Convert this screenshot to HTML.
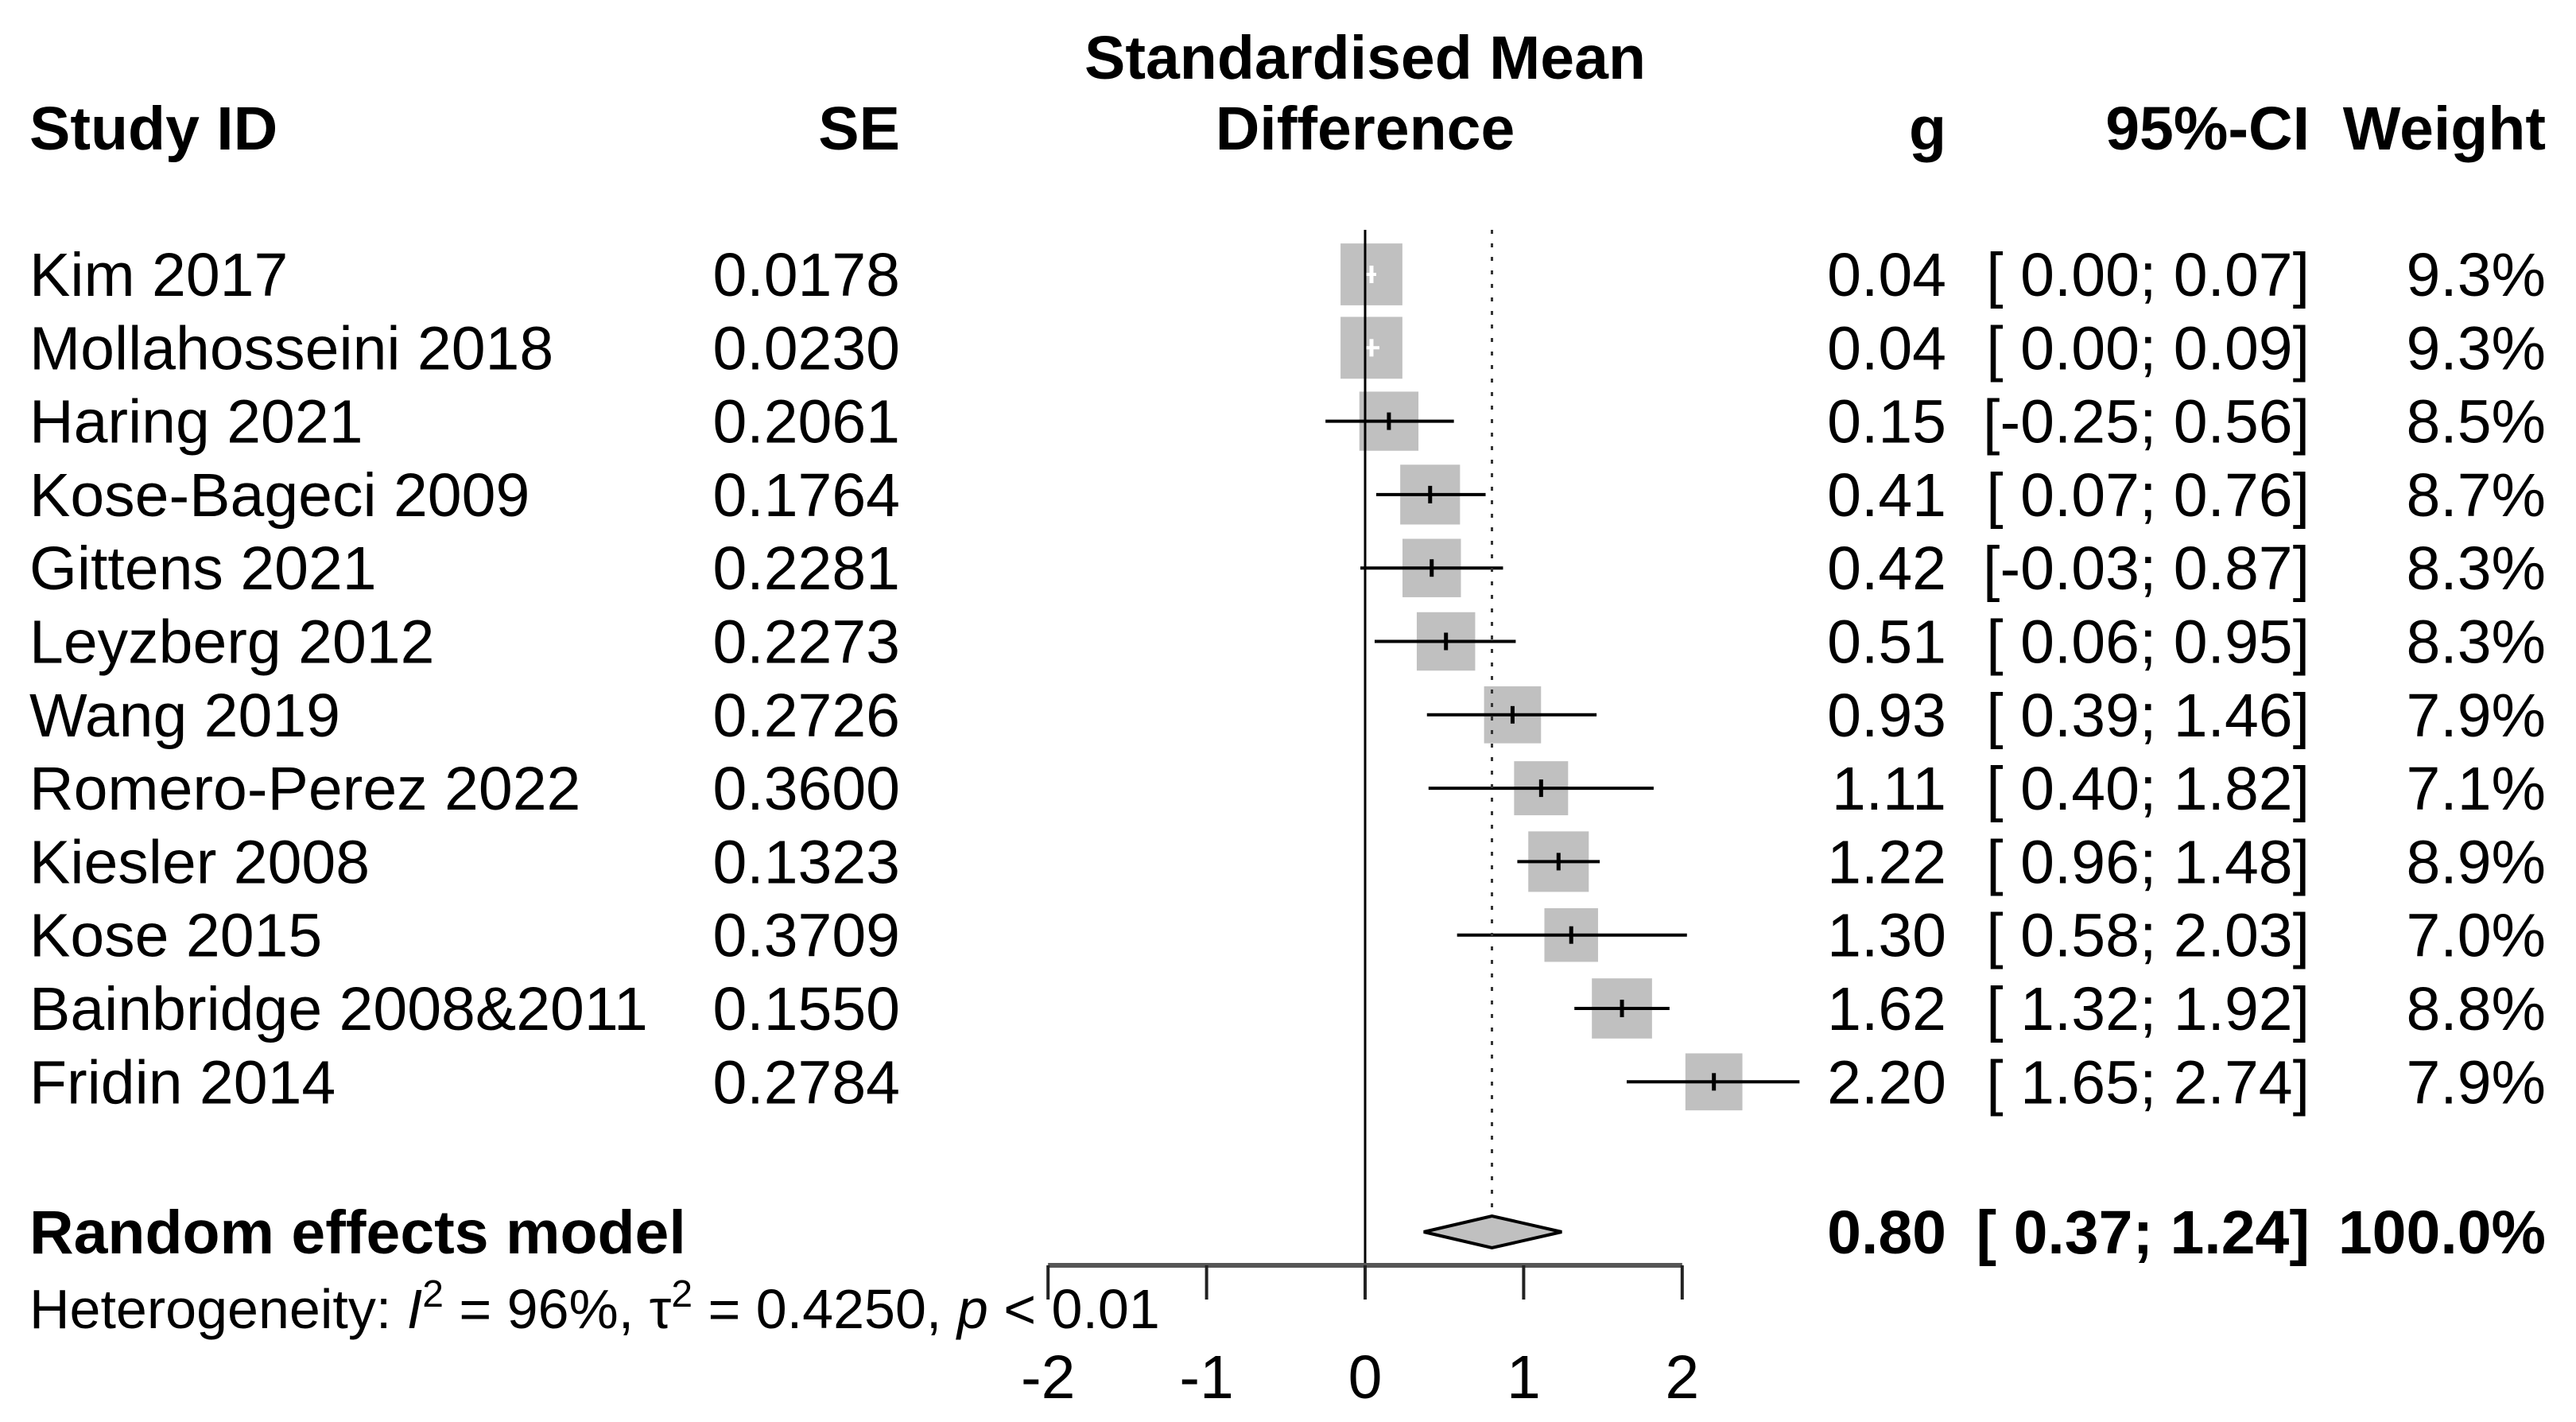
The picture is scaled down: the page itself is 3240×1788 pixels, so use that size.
<!DOCTYPE html>
<html><head><meta charset="utf-8"><style>
html,body{margin:0;padding:0;background:#fff;}
svg{display:block;font-family:"Liberation Sans",Arial,sans-serif;}
</style></head><body>
<svg id="plot" width="3240" height="1788" viewBox="0 0 3240 1788" xmlns="http://www.w3.org/2000/svg">
<g font-size="77" font-weight="bold" fill="#000">
<text x="37" y="188">Study ID</text>
<text x="1132" y="188" text-anchor="end">SE</text>
<text x="1717" y="99" text-anchor="middle">Standardised Mean</text>
<text x="1717" y="188" text-anchor="middle">Difference</text>
<text x="2448" y="188" text-anchor="end">g</text>
<text x="2905" y="188" text-anchor="end">95%-CI</text>
<text x="3202" y="188" text-anchor="end">Weight</text>
</g>
<g id="rows"></g>
<g id="axis"></g>
<g font-size="77" font-weight="bold">
<text x="37" y="1576">Random effects model</text>
<text id="sumg" x="2448" y="1576" text-anchor="end"></text>
<text id="sumci" x="2905" y="1576" text-anchor="end"></text>
<text x="3202" y="1576" text-anchor="end">100.0%</text>
</g>
<text x="37" y="1670" font-size="70">Heterogeneity: <tspan font-style="italic">I</tspan><tspan dy="-27" font-size="48">2</tspan><tspan dy="27"> = 96%, τ</tspan><tspan dy="-27" font-size="48">2</tspan><tspan dy="27"> = 0.4250, </tspan><tspan font-style="italic">p</tspan> &lt; 0.01</text>
</svg>
<script>
const studies=["Kim 2017","Mollahosseini 2018","Haring 2021","Kose-Bageci 2009","Gittens 2021","Leyzberg 2012","Wang 2019","Romero-Perez 2022","Kiesler 2008","Kose 2015","Bainbridge 2008&2011","Fridin 2014"];
const se=["0.0178","0.0230","0.2061","0.1764","0.2281","0.2273","0.2726","0.3600","0.1323","0.3709","0.1550","0.2784"];
const g=[0.04,0.04,0.15,0.41,0.42,0.51,0.93,1.11,1.22,1.30,1.62,2.20];
const lo=[0.00,0.00,-0.25,0.07,-0.03,0.06,0.39,0.40,0.96,0.58,1.32,1.65];
const hi=[0.07,0.09,0.56,0.76,0.87,0.95,1.46,1.82,1.48,2.03,1.92,2.74];
const weight=[9.3,9.3,8.5,8.7,8.3,8.3,7.9,7.1,8.9,7.0,8.8,7.9];
const summary=[0.80,0.37,1.24];
const ticks=[-2,-1,0,1,2];
const NS="http://www.w3.org/2000/svg";
const X=v=>1717+v*199.4;
const rowY=i=>372+i*92.3;
function mk(p,t,a){const e=document.createElementNS(NS,t);for(const k in a)e.setAttribute(k,a[k]);p.appendChild(e);return e;}
const f=v=>(v<0?"-":" ")+Math.abs(v).toFixed(2);
const rows=document.getElementById('rows');
const ax=document.getElementById('axis');
let l0=mk(ax,'line',{x1:X(0),x2:X(0),y1:289,y2:1591,stroke:'#000','stroke-width':3});


let ld=mk(ax,'line',{x1:X(summary[0]),x2:X(summary[0]),y1:289,y2:1520,stroke:'#333','stroke-width':3,'stroke-dasharray':'5 12'});


studies.forEach((s,i)=>{
  const y=rowY(i), cy=y-27;
  const gg=mk(rows,'g',{});
  
  
  let t=mk(gg,'text',{x:37,y:y,'font-size':77});t.textContent=s;
  
  
  t=mk(gg,'text',{x:1132,y:y,'font-size':77,'text-anchor':'end'});t.textContent=se[i];
  
  
  t=mk(gg,'text',{x:2448,y:y,'font-size':77,'text-anchor':'end'});t.textContent=g[i].toFixed(2);
  
  
  t=mk(gg,'text',{x:2905,y:y,'font-size':77,'text-anchor':'end','xml:space':'preserve'});t.textContent="["+f(lo[i])+";"+f(hi[i])+"]";
  
  
  t=mk(gg,'text',{x:3202,y:y,'font-size':77,'text-anchor':'end'});t.textContent=weight[i].toFixed(1)+"%";
  
  
  const side=25.5*Math.sqrt(weight[i]);
  const sq=mk(gg,'rect',{x:X(g[i])-side/2,y:cy-side/2,width:side,height:side,fill:'#c0c0c0'});
  
  
  const inside=(X(hi[i])-X(lo[i]))<side;
  const col=inside?'#fff':'#000';
  const ci=mk(gg,'line',{x1:X(lo[i]),x2:X(hi[i]),y1:cy,y2:cy,stroke:col,'stroke-width':4});
  
  
  const pt=mk(gg,'line',{x1:X(g[i]),x2:X(g[i]),y1:cy-11,y2:cy+11,stroke:col,'stroke-width':5});
  
  
});
const dy=1549;
const dm=mk(rows,'polygon',{points:`${X(summary[1])},${dy} ${X(summary[0])},${dy-20} ${X(summary[2])},${dy} ${X(summary[0])},${dy+20}`,fill:'#c0c0c0',stroke:'#000','stroke-width':4});


document.getElementById('sumg').textContent=summary[0].toFixed(2);
const sc=document.getElementById('sumci');sc.setAttribute('xml:space','preserve');
sc.textContent="["+f(summary[1])+";"+f(summary[2])+"]";
const al=mk(ax,'line',{x1:X(ticks[0]),x2:X(ticks[ticks.length-1]),y1:1591,y2:1591,stroke:'#555','stroke-width':6});


ticks.forEach(v=>{
  const tk=mk(ax,'line',{x1:X(v),x2:X(v),y1:1591,y2:1634,stroke:'#222','stroke-width':4});
  
  
  const tl=mk(ax,'text',{x:X(v),y:1758,'font-size':77,'text-anchor':'middle'});tl.textContent=v;
  
  
});
</script>
</body></html>
